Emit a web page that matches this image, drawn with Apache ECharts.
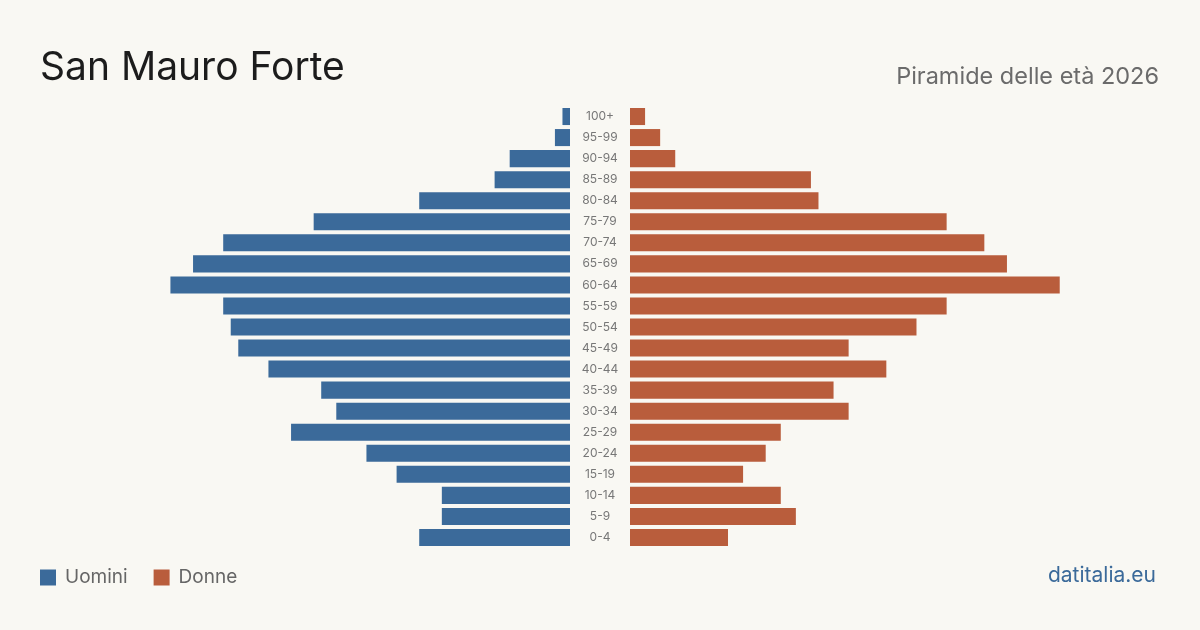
<!DOCTYPE html>
<html>
<head>
<meta charset="utf-8">
<script src="https://cdn.jsdelivr.net/npm/echarts@6/dist/echarts.min.js"></script>
<style>
  html, body { margin: 0; padding: 0; background: #f9f8f3; }
  #chart { width: 1200px; height: 630px; }
</style>
</head>
<body>
<div id="chart"></div>
<script>
// age classes, bottom to top
const ageClasses = ['0-4', '5-9', '10-14', '15-19', '20-24', '25-29', '30-34', '35-39', '40-44', '45-49',
  '50-54', '55-59', '60-64', '65-69', '70-74', '75-79', '80-84', '85-89', '90-94', '95-99', '100+']
const uomini = [20, 17, 17, 23, 27, 37, 31, 33, 40, 44, 45, 46, 53, 50, 46, 34, 20, 10, 8, 2, 1]
const donne = [13, 22, 20, 15, 18, 20, 29, 27, 34, 29, 38, 42, 57, 50, 47, 42, 25, 24, 6, 4, 2]

const blue = '#3b6a9a'
const orange = '#b95d3c'
const font = 'Inter, "Noto Sans", sans-serif'

const chart = echarts.init(document.getElementById('chart'))

chart.setOption({
  backgroundColor: '#f9f8f3',
  animation: false,
  textStyle: { fontFamily: font },
  graphic: [
    {
      type: 'text', left: 40, top: 49,
      style: { text: 'San Mauro Forte', fontSize: 39, fill: '#1c1c1c', fontFamily: font }
    },
    {
      type: 'text', right: 41, top: 65,
      style: { text: 'Piramide delle età 2026', fontSize: 23.5, fill: '#6b6b6b', fontFamily: font }
    },
    {
      type: 'text', right: 44, top: 565,
      style: { text: 'datitalia.eu', fontSize: 21, fill: blue, fontFamily: font }
    }
  ],
  legend: {
    left: 35,
    top: 563,
    icon: 'rect',
    itemWidth: 16,
    itemHeight: 16,
    itemGap: 26,
    textStyle: { fontSize: 19, color: '#666', fontFamily: font, padding: [0, 0, 0, 4] },
    data: ['Uomini', 'Donne']
  },
  grid: [
    { left: 40, right: 630, top: 106, height: 442, containLabel: false },
    { left: 630, right: 40, top: 106, height: 442, containLabel: false }
  ],
  xAxis: [
    {
      gridIndex: 0, type: 'value', inverse: true, min: 0, max: 70.3,
      axisLine: { show: false }, axisTick: { show: false }, axisLabel: { show: false }, splitLine: { show: false }
    },
    {
      gridIndex: 1, type: 'value', min: 0, max: 70.3,
      axisLine: { show: false }, axisTick: { show: false }, axisLabel: { show: false }, splitLine: { show: false }
    }
  ],
  yAxis: [
    {
      gridIndex: 0, type: 'category', data: ageClasses, position: 'right',
      axisLine: { show: false }, axisTick: { show: false },
      axisLabel: { margin: 30, align: 'center', fontSize: 12, color: '#777', fontFamily: font }
    },
    {
      gridIndex: 1, type: 'category', data: ageClasses,
      axisLine: { show: false }, axisTick: { show: false }, axisLabel: { show: false }
    }
  ],
  series: [
    {
      name: 'Uomini', type: 'bar', xAxisIndex: 0, yAxisIndex: 0,
      barCategoryGap: '19%', itemStyle: { color: blue }, data: uomini
    },
    {
      name: 'Donne', type: 'bar', xAxisIndex: 1, yAxisIndex: 1,
      barCategoryGap: '19%', itemStyle: { color: orange }, data: donne
    }
  ]
})
</script>
</body>
</html>
